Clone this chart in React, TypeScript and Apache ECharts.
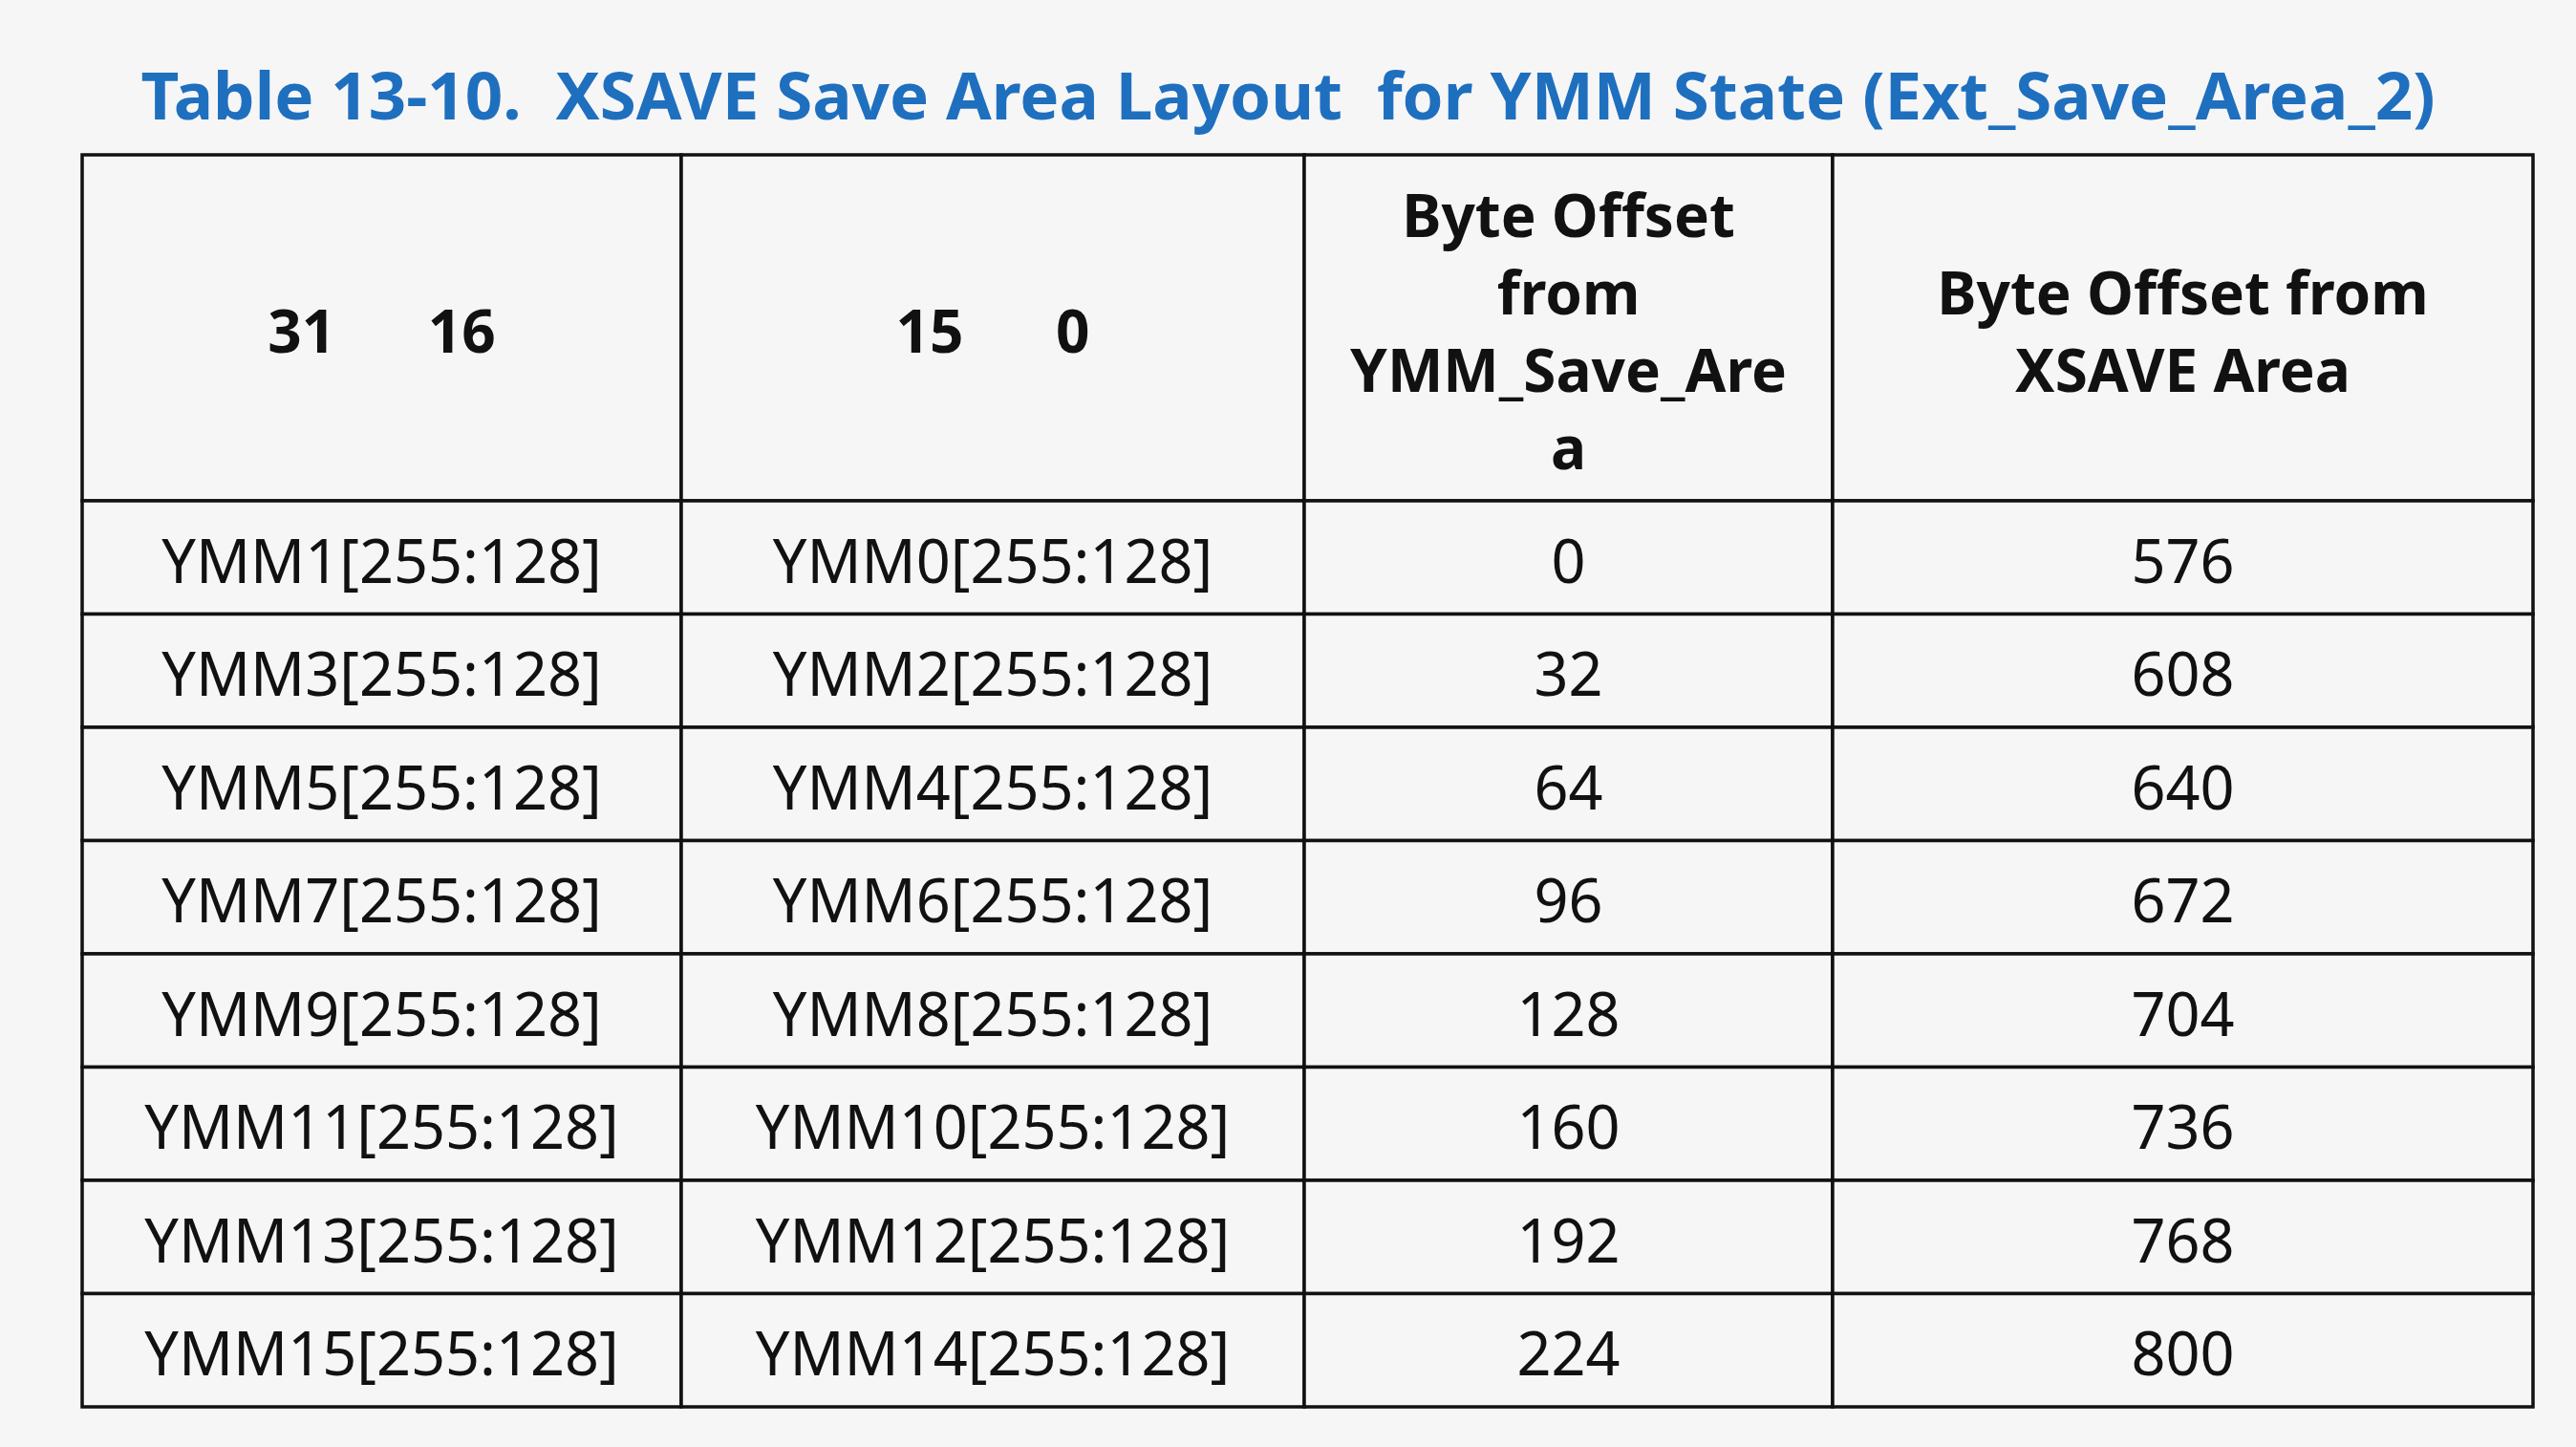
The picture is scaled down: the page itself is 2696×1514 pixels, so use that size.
import React, { useEffect, useRef } from 'react';
import * as echarts from 'echarts';

const headers = ['31      16', '15      0', 'Byte Offset\nfrom\nYMM_Save_Are\na', 'Byte Offset from\nXSAVE Area'];
const highRegs = ['YMM1[255:128]', 'YMM3[255:128]', 'YMM5[255:128]', 'YMM7[255:128]', 'YMM9[255:128]', 'YMM11[255:128]', 'YMM13[255:128]', 'YMM15[255:128]'];
const lowRegs = ['YMM0[255:128]', 'YMM2[255:128]', 'YMM4[255:128]', 'YMM6[255:128]', 'YMM8[255:128]', 'YMM10[255:128]', 'YMM12[255:128]', 'YMM14[255:128]'];
const ymmOffsets = [0, 32, 64, 96, 128, 160, 192, 224];
const xsaveOffsets = [576, 608, 640, 672, 704, 736, 768, 800];

// layout (pixel units on hidden value axes)
const colEdges = [86, 713, 1365, 1918, 2651];
const headTop = 162;
const headBottom = 524;
const rowH = 118.5;

const App: React.FC = () => {
  const ref = useRef<HTMLDivElement>(null);

  useEffect(() => {
    if (!ref.current) return;
    const chart = echarts.init(ref.current, null, { renderer: 'svg' });

    const cells: any[] = [];
    headers.forEach((h, c) => cells.push({ value: [-1, c], text: h, head: true }));
    highRegs.forEach((_, r) => {
      [highRegs[r], lowRegs[r], String(ymmOffsets[r]), String(xsaveOffsets[r])].forEach((t, c) =>
        cells.push({ value: [r, c], text: t, head: false })
      );
    });

    chart.setOption({
      animation: false,
      backgroundColor: '#f6f6f6',
      title: {
        text: 'Table 13-10.  XSAVE Save Area Layout  for YMM State (Ext_Save_Area_2)',
        left: 'center',
        top: 58,
        textStyle: { color: '#1f6fbf', fontSize: 69, fontWeight: 'bold', fontFamily: 'Noto Sans' }
      },
      grid: { left: 0, right: 0, top: 0, bottom: 0 },
      xAxis: { type: 'value', min: 0, max: 2696, show: false },
      yAxis: { type: 'value', min: 0, max: 1514, inverse: true, show: false },
      series: [
        {
          type: 'custom',
          data: cells,
          renderItem: (params: any, api: any) => {
            const item = cells[params.dataIndex];
            const r = item.value[0];
            const c = item.value[1];
            const y0 = r < 0 ? headTop : headBottom + r * rowH;
            const y1 = r < 0 ? headBottom : headBottom + (r + 1) * rowH;
            const p0 = api.coord([colEdges[c], y0]);
            const p1 = api.coord([colEdges[c + 1], y1]);
            return {
              type: 'group',
              children: [
                {
                  type: 'rect',
                  shape: { x: p0[0], y: p0[1], width: p1[0] - p0[0], height: p1[1] - p0[1] },
                  style: { fill: '#f6f6f6', stroke: '#111', lineWidth: 3.5 }
                },
                {
                  type: 'text',
                  x: (p0[0] + p1[0]) / 2,
                  y: (p0[1] + p1[1]) / 2 + 2,
                  style: {
                    text: item.text,
                    align: 'center',
                    verticalAlign: 'middle',
                    fontSize: item.head ? 62 : 63,
                    lineHeight: 81,
                    fontWeight: item.head ? 'bold' : 'normal',
                    fontFamily: 'Noto Sans',
                    fill: '#111'
                  }
                }
              ]
            };
          }
        }
      ]
    });

    return () => chart.dispose();
  }, []);

  return <div ref={ref} style={{ position: 'fixed', left: 0, top: 0, width: 2696, height: 1514 }} />;
};

export default App;
